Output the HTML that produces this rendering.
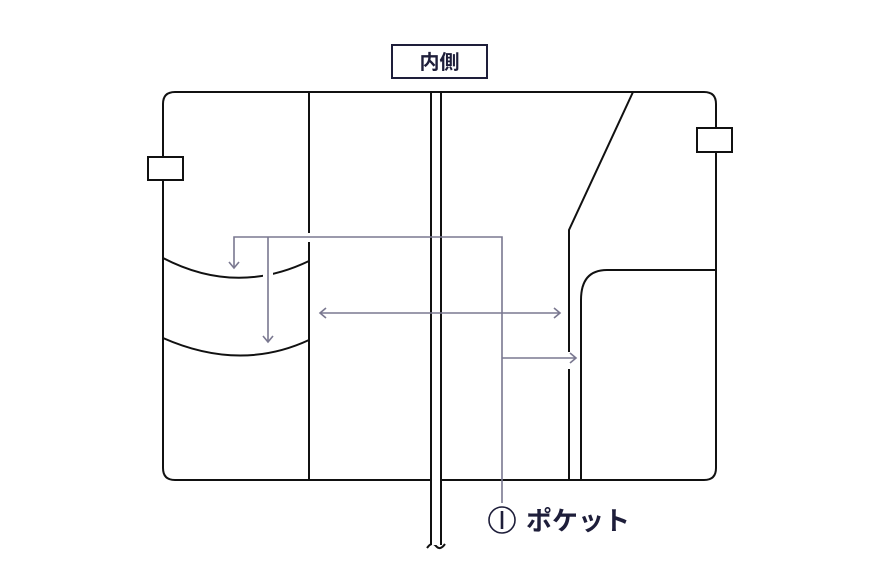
<!DOCTYPE html>
<html><head><meta charset="utf-8"><style>
body{margin:0;background:#fff;width:880px;height:576px;overflow:hidden}
</style></head><body>
<svg width="880" height="576" viewBox="0 0 880 576" xmlns="http://www.w3.org/2000/svg">
<g fill="none" stroke="#111" stroke-width="2">
<path d="M175 92 H704 Q716 92 716 104 V468 Q716 480 704 480 H175 Q163 480 163 468 V104 Q163 92 175 92 Z"/>
<line x1="309" y1="92" x2="309" y2="233"/>
<line x1="309" y1="242" x2="309" y2="480"/>
<path d="M163 258 Q236 296 309 261"/>
<path d="M163 338 Q240 372 309 340"/>
<path d="M633 92 L569 230 V352"/>
<line x1="569" y1="369" x2="569" y2="480"/>
<path d="M716 270 H607 Q581 270 581 300 V480"/>
<path d="M431 92 V545 M441 92 V545"/>
<path d="M427 548 Q432 541 436 546 Q440 551 445 544"/>
</g>
<rect x="263" y="268" width="10" height="14" fill="#fff"/>
<rect x="431.5" y="93" width="9" height="452" fill="#fff"/>
<path d="M431 92 V545 M441 92 V545" stroke="#111" stroke-width="2"/>
<rect x="148" y="157" width="35" height="23" fill="#fff" stroke="#111" stroke-width="2"/>
<rect x="697" y="128" width="35" height="24" fill="#fff" stroke="#111" stroke-width="2"/>
<rect x="392" y="45" width="95" height="33" fill="#fff" stroke="#1e1e3a" stroke-width="2"/>
<text x="439.5" y="69" text-anchor="middle" font-family="'Liberation Sans','Noto Sans CJK JP',sans-serif" font-weight="bold" font-size="20" fill="#1e1e3a">内側</text>
<g fill="none" stroke="#7a7890" stroke-width="1.6">
<path d="M234 268 V237 H502 V503"/>
<path d="M229 262 L234 268 L239 262"/>
<path d="M268 237 V342 M263 336 L268 342 L273 336"/>
<path d="M320 313 H560 M326 308 L320 313 L326 318 M554 308 L560 313 L554 318"/>
<path d="M502 358 H576 M570 353 L576 358 L570 363"/>
</g>
<circle cx="502" cy="520" r="13" fill="none" stroke="#1e1e3a" stroke-width="1.6"/>
<line x1="502" y1="511" x2="502" y2="529" stroke="#1e1e3a" stroke-width="2.6"/>
<text x="526" y="530" font-family="'Liberation Sans','Noto Sans CJK JP',sans-serif" font-weight="bold" font-size="26" fill="#1e1e3a">ポケット</text>
</svg>
</body></html>
